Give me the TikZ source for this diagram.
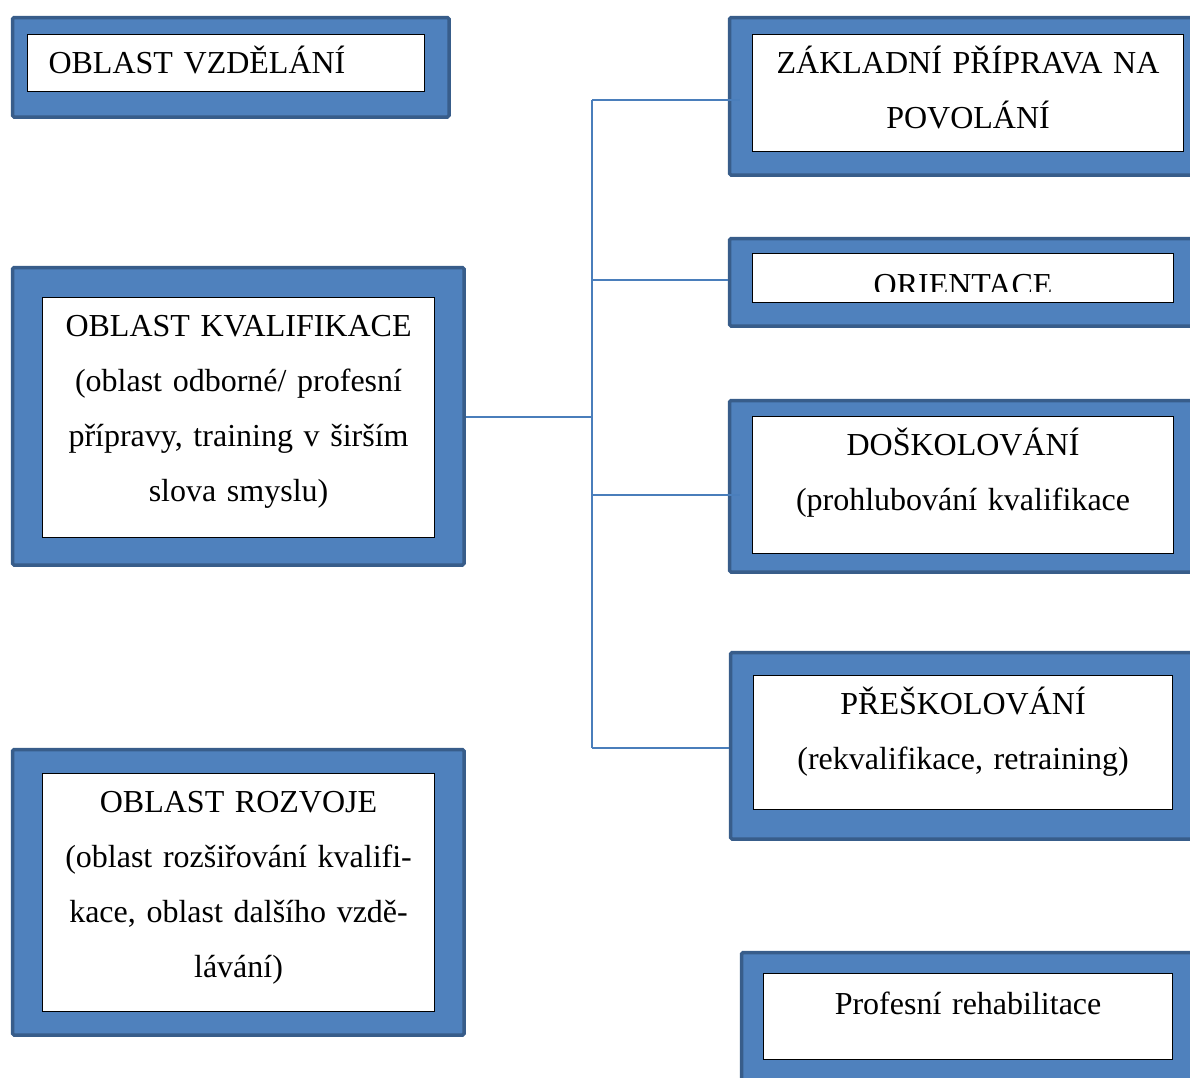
\documentclass[tikz,border=0pt]{standalone}
\usepackage{fontspec}
\setmainfont{Liberation Serif}
\usepackage{xcolor}
\usetikzlibrary{positioning}

\definecolor{frameblue}{HTML}{4F81BD}
\definecolor{framedark}{HTML}{385D8A}
\definecolor{linkblue}{HTML}{4A7EBB}

\begin{document}
\begin{tikzpicture}[x=1pt, y=-1pt,
  frame/.style={draw=framedark, fill=frameblue, line width=3.5pt, rounded corners=1.5pt,
    inner sep=0pt, anchor=north west},
  textbox/.style={draw=black, fill=white, line width=1.1pt, inner sep=0pt, anchor=north west,
    align=center, text height=39pt, font=\fontsize{32}{55}\selectfont},
  link/.style={draw=linkblue, line width=1.6pt}]
  \useasboundingbox (0,0) rectangle (1190,1077);
  \clip (0,0) rectangle (1190,1077);
  % Left column: the three areas
  \node[frame, minimum width=436.5pt, minimum height=99.5pt] (vzdF) at (10.75,15.75) {};
  \node[textbox, align=left, inner xsep=21pt, text width=355pt, text depth=18pt] (vzd) at (27,34)
    {OBLAST VZDĚLÁNÍ};
  \node[frame, minimum width=451.5pt, minimum height=297.5pt] (kvalF) at (10.75,265.75) {};
  \node[textbox, text width=392pt, text depth=201pt] (kval) at (42,297)
    {OBLAST KVALIFIKACE\\(oblast odborné/ profesní\\přípravy, training v širším\\slova smyslu)};
  \node[frame, minimum width=451.5pt, minimum height=285.5pt] (rozvF) at (10.75,747.75) {};
  \node[textbox, text width=392pt, text depth=199pt] (rozv) at (42,773)
    {OBLAST ROZVOJE\\(oblast rozšiřování kvalifi-\\kace, oblast dalšího vzdě-\\lávání)};
  % Right column: parts of the qualification area
  \node[frame, minimum width=480pt, minimum height=157.5pt] (zaklF) at (727.75,15.75) {};
  \node[textbox, text width=431pt, text depth=78pt] (zakl) at (752,34)
    {ZÁKLADNÍ PŘÍPRAVA NA\\POVOLÁNÍ};
  \node[frame, minimum width=480pt, minimum height=87.5pt] (orieF) at (727.75,236.75) {};
  \node[textbox, text width=421pt, text height=42pt, text depth=7pt] (orie) at (752,253)
    {ORIENTACE};
  % bottom of the ORIENTACE text is cut off
  \fill[white] ([shift={(0.8pt,11pt)}]orie.south west) rectangle ([shift={(-0.8pt,0.8pt)}]orie.south east);
  \node[frame, minimum width=480pt, minimum height=171.5pt] (doskF) at (727.75,398.75) {};
  \node[textbox, text width=421pt, text depth=98pt] (dosk) at (752,416)
    {DOŠKOLOVÁNÍ\\(prohlubování kvalifikace};
  \node[frame, minimum width=480pt, minimum height=186.5pt] (presF) at (728.75,650.75) {};
  \node[textbox, text width=419pt, text depth=95pt] (pres) at (753,675)
    {PŘEŠKOLOVÁNÍ\\(rekvalifikace, retraining)};
  \node[frame, minimum width=470pt, minimum height=150pt] (profF) at (739.75,950.75) {};
  \node[textbox, text width=409pt, text height=41pt, text depth=45pt] (prof) at (763,973)
    {Profesní rehabilitace};
  % Connectors
  \coordinate (jZ) at (592,100);
  \coordinate (jO) at (592,280);
  \coordinate (jK) at (592,417);
  \coordinate (jD) at (592,495);
  \coordinate (jP) at (592,748);
  \draw[link] (kvalF.east |- jK) -- (jK);
  \draw[link] (jZ) -- (jP);
  \draw[link, shorten >=-12pt] (jZ) -- (jZ -| zaklF.west);
  \draw[link] (jO) -- (jO -| orieF.west);
  \draw[link, shorten >=-12pt] (jD) -- (jD -| doskF.west);
  \draw[link] (jP) -- (jP -| presF.west);
\end{tikzpicture}
\end{document}
